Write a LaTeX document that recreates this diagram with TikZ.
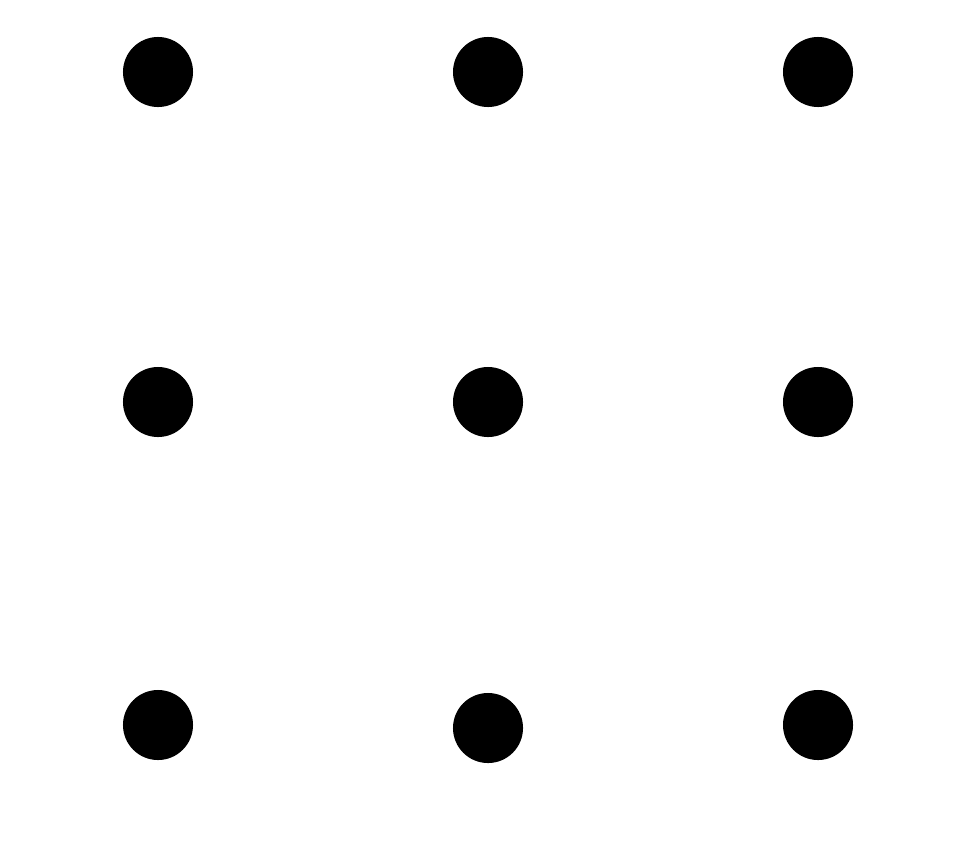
\documentclass[tikz,border=0pt]{standalone}
\begin{document}
\begin{tikzpicture}[x=0.01cm,y=-0.01cm,
  dot/.style={circle,fill=black,draw=none,minimum size=0.7cm,inner sep=0pt}]
\useasboundingbox[fill=white] (0,0) rectangle (967,851);
\node[dot] (d11) at (158,72) {};
\node[dot] (d12) at (488,72) {};
\node[dot] (d13) at (818,72) {};
\node[dot] (d21) at (158,402) {};
\node[dot] (d22) at (488,402) {};
\node[dot] (d23) at (818,402) {};
\node[dot] (d31) at (158,725) {};
\node[dot] (d32) at (488,728) {};
\node[dot] (d33) at (818,725) {};
\end{tikzpicture}
\end{document}
